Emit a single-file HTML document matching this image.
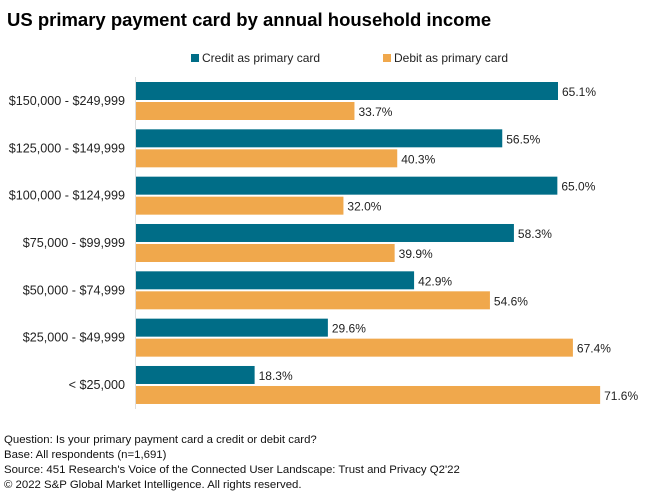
<!DOCTYPE html>
<html><head><meta charset="utf-8"><style>
body{margin:0;background:#fff;}
svg{display:block;font-family:"Liberation Sans",sans-serif;}
</style></head><body>
<svg id="chart" width="660" height="496" viewBox="0 0 660 496">
<text x="7" y="26" font-size="18.5" font-weight="bold" fill="#000">US primary payment card by annual household income</text>
<g>
<rect x="191" y="54" width="8" height="8" fill="#006d87"/>
<text x="202" y="62" font-size="12" fill="#222">Credit as primary card</text>
<rect x="383" y="54" width="8" height="8" fill="#f0a84c"/>
<text x="394" y="62" font-size="12" fill="#222">Debit as primary card</text>
</g>
<line x1="135.5" y1="77" x2="135.5" y2="409" stroke="#ddd" stroke-width="1"/>
<g id="bars"></g>
<g font-size="11.4" fill="#111">
<text x="4" y="443">Question: Is your primary payment card a credit or debit card?</text>
<text x="4" y="458">Base: All respondents (n=1,691)</text>
<text x="4" y="473">Source: 451 Research's Voice of the Connected User Landscape: Trust and Privacy Q2'22</text>
<text x="4" y="488">© 2022 S&amp;P Global Market Intelligence. All rights reserved.</text>
</g>
</svg>
<script>
const categories=["$150,000 - $249,999","$125,000 - $149,999","$100,000 - $124,999","$75,000 - $99,999","$50,000 - $74,999","$25,000 - $49,999","< $25,000"];
const creditValues=[65.1,56.5,65.0,58.3,42.9,29.6,18.3];
const debitValues=[33.7,40.3,32.0,39.9,54.6,67.4,71.6];
const NS="http://www.w3.org/2000/svg";
const x0=136, pxPer=422/65.1;
function xScale(v){return x0+v*pxPer;}
function yBand(i){return 82+i*47.33;}
const g=document.getElementById('bars');
function mk(tag,attrs){const e=document.createElementNS(NS,tag);for(const k in attrs)e.setAttribute(k,attrs[k]);return e;}
categories.forEach((c,i)=>{
  const y=yBand(i);
  const lab=mk('text',{x:125,y:y+23,'font-size':12.6,fill:'#222','text-anchor':'end'});
  lab.textContent=c;
  
  
  g.appendChild(lab);
  [[creditValues[i],'#006d87',0,'bar-credit'],[debitValues[i],'#f0a84c',20,'bar-debit']].forEach(([v,col,off,nm])=>{
    const r=mk('rect',{x:x0,y:y+off,width:xScale(v)-x0,height:18,fill:col});
    
    
    g.appendChild(r);
    const t=mk('text',{x:xScale(v)+4,y:y+off+14,'font-size':12,fill:'#222'});
    t.textContent=v.toFixed(1)+'%';
    
    
    g.appendChild(t);
  });
});
</script>
</body></html>
